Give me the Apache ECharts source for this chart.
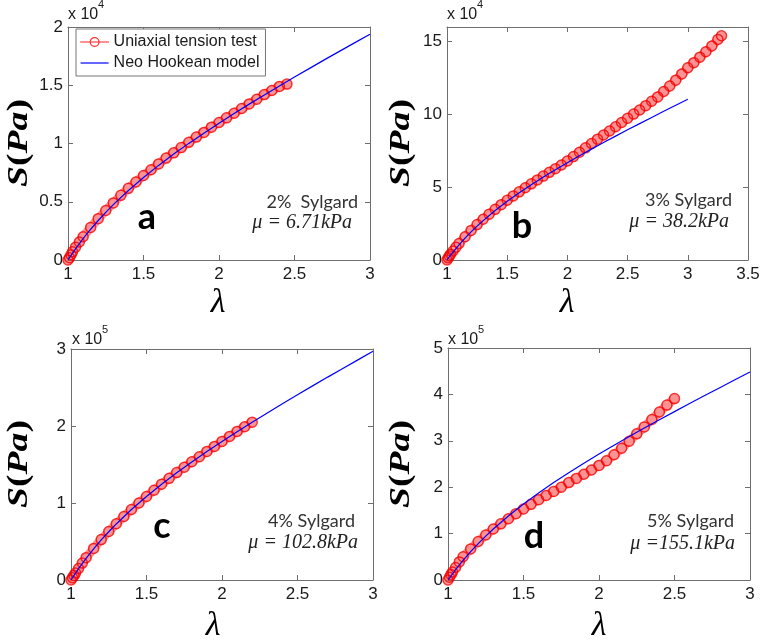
<!DOCTYPE html>
<html><head><meta charset="utf-8">
<script src="https://cdn.jsdelivr.net/npm/echarts@6/dist/echarts.min.js"></script>
<style>html,body{margin:0;padding:0;background:#fff}#c{width:764px;height:642px}</style>
</head><body><div id="c"></div>
<script>
// ---------- data (stress in units of 10^4 Pa for a,b and 10^5 Pa for c,d) ----------
const panelLetters = ['a', 'b', 'c', 'd'];
const sylgardLabels = ['2%  Sylgard', '3% Sylgard', '4% Sylgard', '5% Sylgard'];
const muLabels = ['μ = 6.71kPa', 'μ = 38.2kPa', 'μ = 102.8kPa', 'μ =155.1kPa'];
const exponents = ['4', '4', '5', '5'];
const xMaxes = [3, 3.5, 3, 3];
const yMaxes = [2, 16, 3, 5];
const yIntervals = [0.5, 5, 1, 1];
const yLabelStep = [0.5, 5, 1, 1];

// measured (uniaxial tension test)
const lamA = [1, 1.01, 1.02, 1.03, 1.05, 1.075, 1.1, 1.15, 1.2, 1.25, 1.3, 1.35, 1.4, 1.45, 1.5, 1.55, 1.6, 1.65, 1.7, 1.75, 1.8, 1.85, 1.9, 1.95, 2.0, 2.05, 2.1, 2.15, 2.2, 2.25, 2.3, 2.35, 2.4, 2.45];
const testA = [0, 0.02, 0.045, 0.07, 0.11, 0.155, 0.2, 0.28, 0.355, 0.425, 0.49, 0.555, 0.615, 0.67, 0.725, 0.775, 0.825, 0.875, 0.92, 0.965, 1.01, 1.055, 1.095, 1.14, 1.18, 1.22, 1.26, 1.3, 1.34, 1.38, 1.42, 1.455, 1.49, 1.51];

const lamB = [1, 1.01, 1.02, 1.03, 1.05, 1.075, 1.1, 1.15, 1.2, 1.25, 1.3, 1.35, 1.4, 1.45, 1.5, 1.55, 1.6, 1.65, 1.7, 1.75, 1.8, 1.85, 1.9, 1.95, 2.0, 2.05, 2.1, 2.15, 2.2, 2.25, 2.3, 2.35, 2.4, 2.45, 2.5, 2.55, 2.6, 2.65, 2.7, 2.75, 2.8, 2.85, 2.9, 2.95, 3.0, 3.05, 3.1, 3.15, 3.2, 3.25, 3.28];
const testB = [0, 0.15, 0.28, 0.4, 0.62, 0.88, 1.13, 1.6, 2.03, 2.43, 2.8, 3.15, 3.48, 3.8, 4.1, 4.4, 4.68, 4.96, 5.23, 5.5, 5.76, 6.02, 6.27, 6.52, 6.8, 7.1, 7.4, 7.7, 8.0, 8.3, 8.58, 8.86, 9.15, 9.44, 9.73, 10.02, 10.3, 10.6, 10.9, 11.2, 11.57, 11.95, 12.35, 12.78, 13.2, 13.55, 13.93, 14.3, 14.7, 15.15, 15.4];

const lamC = [1, 1.01, 1.02, 1.03, 1.05, 1.075, 1.1, 1.15, 1.2, 1.25, 1.3, 1.35, 1.4, 1.45, 1.5, 1.55, 1.6, 1.65, 1.7, 1.75, 1.8, 1.85, 1.9, 1.95, 2.0, 2.05, 2.1, 2.15, 2.2];
const testC = [0, 0.03, 0.06, 0.09, 0.15, 0.22, 0.29, 0.41, 0.525, 0.63, 0.73, 0.825, 0.915, 1.0, 1.085, 1.165, 1.245, 1.32, 1.395, 1.465, 1.535, 1.6, 1.67, 1.735, 1.8, 1.865, 1.93, 1.99, 2.05];

const lamD = [1, 1.01, 1.02, 1.03, 1.05, 1.075, 1.1, 1.15, 1.2, 1.25, 1.3, 1.35, 1.4, 1.45, 1.5, 1.55, 1.6, 1.65, 1.7, 1.75, 1.8, 1.85, 1.9, 1.95, 2.0, 2.05, 2.1, 2.15, 2.2, 2.25, 2.3, 2.35, 2.4, 2.45, 2.5];
const testD = [0, 0.06, 0.12, 0.17, 0.27, 0.39, 0.5, 0.67, 0.83, 0.97, 1.1, 1.21, 1.32, 1.43, 1.53, 1.63, 1.73, 1.82, 1.91, 2.0, 2.1, 2.19, 2.28, 2.37, 2.47, 2.57, 2.7, 2.84, 2.99, 3.15, 3.3, 3.46, 3.62, 3.77, 3.91];

// Neo Hookean model curves
const lamModel = [1, 1.02, 1.05, 1.1, 1.15, 1.2, 1.25, 1.3, 1.4, 1.5, 1.6, 1.7, 1.8, 1.9, 2.0, 2.1, 2.2, 2.3, 2.4, 2.5, 2.6, 2.7, 2.8, 2.9, 3.0];
const modelA = [0, 0.039, 0.096, 0.184, 0.264, 0.339, 0.409, 0.475, 0.597, 0.708, 0.812, 0.909, 1.001, 1.089, 1.174, 1.257, 1.338, 1.417, 1.494, 1.570, 1.645, 1.720, 1.793, 1.866, 1.938];
const modelB = [0, 0.225, 0.546, 1.045, 1.505, 1.931, 2.330, 2.706, 3.399, 4.032, 4.620, 5.172, 5.697, 6.200, 6.685, 7.156, 7.615, 8.064, 8.505, 8.939, 9.367, 9.790, 10.209, 10.624, 11.036];
const modelC = [0, 0.060, 0.147, 0.281, 0.405, 0.520, 0.627, 0.728, 0.915, 1.085, 1.243, 1.392, 1.533, 1.668, 1.799, 1.926, 2.049, 2.170, 2.289, 2.406, 2.521, 2.635, 2.747, 2.859, 2.970];
const modelD = [0, 0.091, 0.222, 0.424, 0.611, 0.784, 0.946, 1.099, 1.380, 1.637, 1.876, 2.100, 2.313, 2.517, 2.714, 2.905, 3.092, 3.274, 3.453, 3.629, 3.803, 3.975, 4.145, 4.314, 4.481];

const legendNames = ['Uniaxial tension test', 'Neo Hookean model'];

// ---------- layout ----------
const tests = [[lamA, testA], [lamB, testB], [lamC, testC], [lamD, testD]];
const models = [modelA, modelB, modelC, modelD];
const grids = [
  {left: 68, top: 27, width: 302, height: 233},
  {left: 447, top: 27, width: 301, height: 233},
  {left: 71, top: 349, width: 302, height: 231},
  {left: 448, top: 348, width: 302, height: 232}
];
const boxColor = '#6e6e6e';
const labelFont = {fontSize: 17, color: '#1a1a1a', fontFamily: 'Liberation Sans'};

const xAxes = [], yAxes = [], series = [], graphic = [];
grids.forEach((g, i) => {
  const baseX = {
    type: 'value', gridIndex: i, min: 1, max: xMaxes[i], interval: 0.5,
    axisLine: {show: true, onZero: false, lineStyle: {color: boxColor, width: 1}},
    axisTick: {show: true, inside: true, length: 5, lineStyle: {color: boxColor}},
    splitLine: {show: false}
  };
  xAxes.push(Object.assign({}, baseX, {position: 'bottom', axisLabel: Object.assign({margin: 6}, labelFont)}));
  xAxes.push(Object.assign({}, baseX, {position: 'top', axisLabel: {show: false}}));
  const step = yLabelStep[i];
  const baseY = {
    type: 'value', gridIndex: i, min: 0, max: yMaxes[i], interval: yIntervals[i],
    axisLine: {show: true, onZero: false, lineStyle: {color: boxColor, width: 1}},
    axisTick: {show: true, inside: true, length: 5, lineStyle: {color: boxColor}},
    splitLine: {show: false}
  };
  yAxes.push(Object.assign({}, baseY, {position: 'left', axisLabel: Object.assign({margin: 5,
    formatter: v => (Math.abs(v / step - Math.round(v / step)) < 1e-9 ? String(v) : '')}, labelFont)}));
  yAxes.push(Object.assign({}, baseY, {position: 'right', axisLabel: {show: false}}));

  const [lam, s] = tests[i];
  series.push({
    type: 'line', name: legendNames[0], xAxisIndex: 2 * i, yAxisIndex: 2 * i,
    data: lam.map((x, k) => [x, s[k]]),
    symbol: 'circle', symbolSize: 10, showSymbol: true,
    lineStyle: {color: 'rgba(255,40,40,0.5)', width: 9, cap: 'round', join: 'round'},
    itemStyle: {color: 'rgba(255,255,255,0)', borderColor: 'rgba(245,0,0,0.8)', borderWidth: 1.5},
    z: 2
  });
  series.push({
    type: 'line', name: legendNames[1], xAxisIndex: 2 * i, yAxisIndex: 2 * i,
    data: lamModel.map((x, k) => [x, models[i][k]]),
    symbol: 'none',
    lineStyle: {color: '#0000ff', width: 1.2},
    itemStyle: {color: '#0000ff'},
    z: 3
  });
});

// ---------- texts ----------
const sLabelPos = [[20, 143], [402, 143], [20, 464], [402, 464]];
const lambdaPos = [[218, 303], [567, 303], [213, 626], [599, 626]];
const expPos = [[68, 15], [447, 15], [72, 340], [448, 340]];
const sylPos = [[358, 202], [732, 200], [355, 521], [734, 521]];
const muPos = [[352, 223], [729, 222], [358, 543], [735, 544]];
const letterPos = [[147, 217], [522, 226], [162, 526], [534, 536]];

for (let i = 0; i < 4; i++) {
  graphic.push({
    type: 'text', x: sLabelPos[i][0], y: sLabelPos[i][1], rotation: Math.PI / 2, scaleX: 1.3,
    style: {
      text: '{i|S}{n|(}{i|Pa}{n|)}', align: 'center', verticalAlign: 'middle',
      rich: {
        i: {fontFamily: 'Liberation Serif', fontStyle: 'italic', fontWeight: 'bold', fontSize: 29, fill: '#000'},
        n: {fontFamily: 'Liberation Serif', fontWeight: 'bold', fontSize: 29, fill: '#000'}
      }
    }
  });
  graphic.push({
    type: 'text', x: lambdaPos[i][0], y: lambdaPos[i][1],
    style: {text: 'λ', font: 'italic 34px "Liberation Serif"', fill: '#000', align: 'center', verticalAlign: 'middle'}
  });
  graphic.push({
    type: 'text', x: expPos[i][0], y: expPos[i][1],
    style: {text: 'x 10', font: '16px "Liberation Sans"', fill: '#1a1a1a', align: 'left', verticalAlign: 'middle'}
  });
  graphic.push({
    type: 'text', x: expPos[i][0] + 30, y: expPos[i][1] - 10,
    style: {text: exponents[i], font: '11px "Liberation Sans"', fill: '#1a1a1a', align: 'left', verticalAlign: 'middle'}
  });
  graphic.push({
    type: 'text', x: sylPos[i][0], y: sylPos[i][1],
    style: {text: sylgardLabels[i], font: '18px Lato', fill: '#333', align: 'right', verticalAlign: 'middle'}
  });
  graphic.push({
    type: 'text', x: muPos[i][0], y: muPos[i][1],
    style: {text: muLabels[i], font: 'italic 20px "Liberation Serif"', fill: '#222', align: 'right', verticalAlign: 'middle'}
  });
  graphic.push({
    type: 'text', x: letterPos[i][0], y: letterPos[i][1],
    style: {text: panelLetters[i], font: 'bold 36px Lato', fill: '#000', align: 'center', verticalAlign: 'middle'}
  });
}

const chart = echarts.init(document.getElementById('c'), null, {renderer: 'canvas'});
chart.setOption({
  animation: false,
  backgroundColor: '#fff',
  grid: grids.map(g => Object.assign({containLabel: false}, g)),
  xAxis: xAxes,
  yAxis: yAxes,
  legend: {
    data: [
      {name: legendNames[0], lineStyle: {width: 1, color: '#ff2020', opacity: 1},
       itemStyle: {color: 'rgba(255,255,255,0)', borderColor: '#ff3030', borderWidth: 1.2}},
      {name: legendNames[1], lineStyle: {width: 1.2, color: '#0000ff'},
       itemStyle: {color: 'rgba(0,0,0,0)', borderWidth: 0, opacity: 0}}
    ],
    orient: 'vertical', left: 76, top: 29,
    itemWidth: 28, itemHeight: 11, itemGap: 5,
    padding: [5, 6, 5, 4],
    backgroundColor: '#fff', borderColor: '#777', borderWidth: 1,
    textStyle: {fontSize: 16, lineHeight: 16, color: '#1a1a1a', fontFamily: 'Liberation Sans'},
    selectedMode: false
  },
  series: series,
  graphic: graphic
});
</script></body></html>
